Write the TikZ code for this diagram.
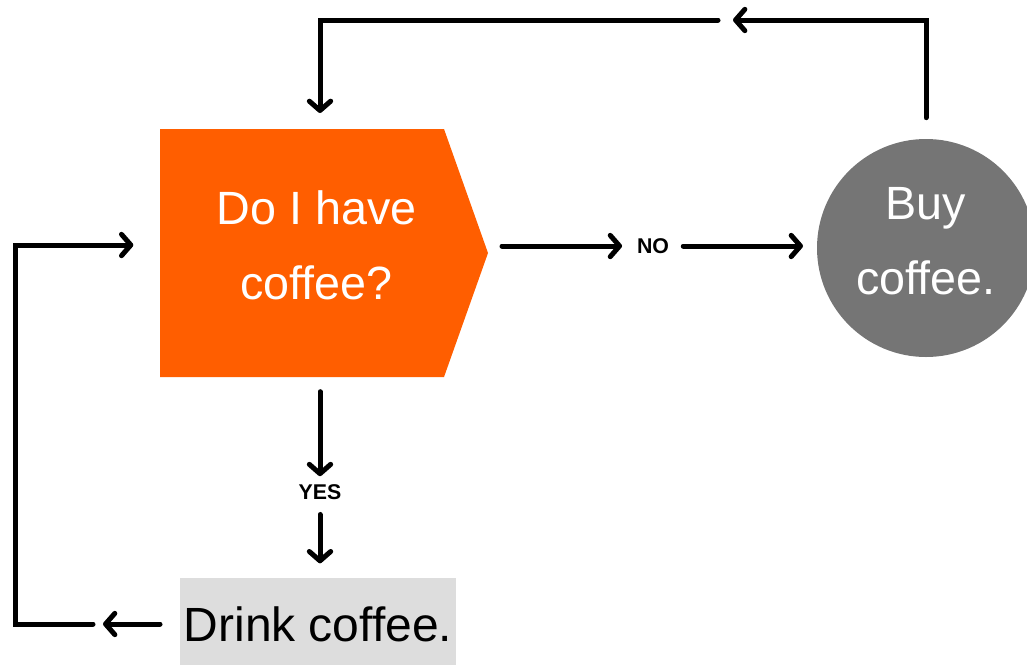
\documentclass[tikz,border=0pt]{standalone}
\usepackage{fontspec}
\setmainfont{Liberation Sans}
\usetikzlibrary{arrows.meta,backgrounds}
\definecolor{qorange}{RGB}{255,94,0}
\definecolor{bgray}{RGB}{117,117,117}
\definecolor{dgray}{RGB}{221,221,221}

\begin{document}
\begin{tikzpicture}[x=0.75pt,y=-0.75pt,
		arr/.style={-{Straight Barb[length=7pt,width=16pt,round]},line width=3.75pt,line cap=round},
		big/.style={font=\fontsize{35}{56}\selectfont,align=center,text=white},
		lbl/.style={font=\fontsize{16}{18}\selectfont\bfseries,inner sep=0pt}]
			\useasboundingbox (0,0) rectangle (1027,664);
			
			% question
			\node[minimum width=213pt,minimum height=186pt,inner sep=0pt,outer sep=0pt,
				label={[big,xshift=11pt,yshift=6pt]center:Do I have\\coffee?}] (Q) at (302,253) {};
			\coordinate (Qtip) at ([xshift=33pt]Q.east);
			\begin{pgfonlayer}{background}
				\fill[qorange] (Q.north west) -- (Q.north east) -- (Qtip) -- (Q.south east) -- (Q.south west) -- cycle;
			\end{pgfonlayer}
			
			% buy
			\node[circle,fill=bgray,minimum size=163.5pt,inner sep=0pt,outer sep=0pt,
				label={[big,yshift=5pt]center:Buy\\coffee.}] (B) at (926,248) {};
			
			% drink
			\node[fill=dgray,minimum width=207pt,minimum height=69pt,inner sep=0pt,outer sep=0pt,font=\fontsize{36}{40}\selectfont] (D) at (318,624) {Drink coffee.};
			
			\node[lbl] (N) at (653,246) {NO};
			\node[lbl] (Y) at (320,492) {YES};
			
			% no
			\draw[arr,shorten >=11pt] ([xshift=10.5pt]Qtip |- N) -- (N);
			\draw[arr,shorten <=10.5pt,shorten >=10.5pt] (N) -- (N -| B.west);
			
			% yes
			\draw[arr,shorten <=11pt,shorten >=6pt] (Y |- Q.south) -- (Y);
			\draw[arr,shorten <=11pt,shorten >=11pt] (Y) -- (Y |- D.north);
			
			% loop back after drinking
			\coordinate (backA) at (103,624);
			\coordinate (backB) at (93,624);
			\coordinate (backC) at (15,245);
			\draw[arr,shorten <=15pt] (D.west) -- (backA);
			\draw[arr,shorten >=20pt] (backB) -- (backC |- backB) -- (backC) -- (Q.west |- backC);
			
			% loop back after buying
			\coordinate (topA) at (733,20);
			\coordinate (topB) at (718,20);
			\draw[arr,shorten <=16pt] (B.north) |- (topA);
			\draw[arr,shorten >=12pt] (topB) -| (Y |- Q.north);
			
		\end{tikzpicture}
\end{document}
